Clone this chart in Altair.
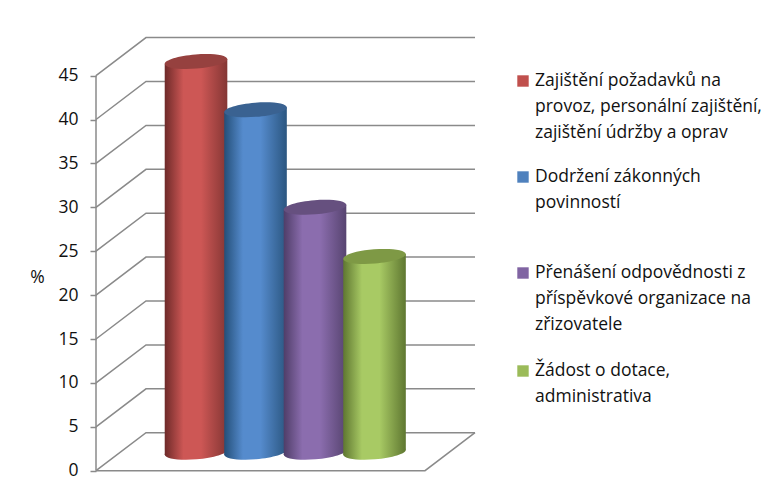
import altair as alt
import pandas as pd

# --- data ---
categories = ["Zajištění požadavků na provoz, personální zajištění, zajištění údržby a oprav",
              "Dodržení zákonných povinností",
              "Přenášení odpovědnosti z příspěvkové organizace na zřizovatele",
              "Žádost o dotace, administrativa"]
values = [44.5, 39.0, 27.9, 22.3]
legend_lines = [["Zajištění požadavků na", "provoz, personální zajištění,", "zajištění údržby a oprav"],
                ["Dodržení zákonných", "povinností"],
                ["Přenášení odpovědnosti z", "příspěvkové organizace na", "zřizovatele"],
                ["Žádost o dotace,", "administrativa"]]
y_ticks = [0, 5, 10, 15, 20, 25, 30, 35, 40, 45]

# --- styles and layout ---
FONT = "Open Sans"
FS = 17.5
TEXT = "#111111"
GRID = "#8a8a8a"
palettes = [
    dict(edge_l="#6e2a29", mid="#cd5755", edge_r="#843634", top="#96413f", key="#c0504d"),
    dict(edge_l="#244f78", mid="#558bcd", edge_r="#2b5680", top="#3a6291", key="#4f81bd"),
    dict(edge_l="#4f3d68", mid="#8b6dae", edge_r="#574470", top="#66507f", key="#8064a2"),
    dict(edge_l="#5f7731", mid="#a8ca64", edge_r="#5f7731", top="#7e9945", key="#9bbb59"),
]
PX_X = 59.5   # px per category unit
PX_Y = 8.78   # px per percent
PAD_L, PAD_T = 88, 0
W, H = 677, 488
x0 = -0.681
x_scale = alt.Scale(domain=[x0, x0 + W / PX_X], range=[0, W], nice=False, zero=False)
y_bottom = -(488 - 462.7) / PX_Y
y_scale = alt.Scale(domain=[y_bottom, y_bottom + H / PX_Y], nice=False, zero=False)
y_axis = alt.Axis(
    values=y_ticks, domain=False, grid=False, tickColor=GRID, tickWidth=1.5,
    tickSize=6, labelFont=FONT, labelFontSize=FS, labelColor=TEXT, labelPadding=12,
    title="%", titleFont=FONT, titleFontSize=FS, titleColor=TEXT,
    titleFontWeight="normal", titleAngle=0, titleX=-59, titleY=269,
    titleBaseline="middle", titleAlign="center")

DEPTH_X = 50 / PX_X
DEPTH_Y = 38 / PX_Y
FLOOR_W = 329 / PX_X
BAR_HALF = 31.3 / PX_X
TILT = 2.5 / PX_Y
BASE = 18.5 / PX_Y
ELLIPSE = "M-1,0.08 A1,0.225 -4.6 1 1 1,-0.08 A1,0.225 -4.6 1 1 -1,0.08 Z"
ELL_SIZE = (2 * BAR_HALF * PX_X) ** 2

X = lambda: alt.X("x:Q", scale=x_scale, axis=None)
Y = lambda f="y:Q": alt.Y(f, scale=y_scale, axis=y_axis)

layers = []

# front vertical edge, carrying the y axis
axis_df = pd.DataFrame({"y": [y_ticks[0]], "y2": [y_ticks[-1]]})
layers.append(
    alt.Chart(axis_df).mark_rule(color=GRID, strokeWidth=1.5).encode(
        x=alt.value(0), y=Y(), y2="y2:Q")
)

# grid: left wall + back wall
grid_rows = []
for v in y_ticks:
    grid_rows += [dict(x=x0, y=v, g=v, o=0),
                  dict(x=x0 + DEPTH_X, y=v + DEPTH_Y, g=v, o=1),
                  dict(x=x0 + DEPTH_X + FLOOR_W, y=v + DEPTH_Y, g=v, o=2)]
# floor front and right edges
grid_rows += [dict(x=x0 + DEPTH_X + FLOOR_W, y=DEPTH_Y, g=-1, o=0),
              dict(x=x0 + FLOOR_W, y=0, g=-1, o=1),
              dict(x=x0, y=0, g=-1, o=2)]
layers.append(
    alt.Chart(pd.DataFrame(grid_rows)).mark_line(color=GRID, strokeWidth=1.5).encode(
        x=X(), y=Y(), detail="g:N", order="o:Q")
)

# cylinders
for i, (val, pal) in enumerate(zip(values, palettes)):
    cx = i + 1
    grad = alt.LinearGradient(
        gradient="linear", x1=0, y1=0, x2=1, y2=0,
        stops=[alt.GradientStop(offset=0, color=pal["edge_l"]),
               alt.GradientStop(offset=0.3, color=pal["mid"]),
               alt.GradientStop(offset=0.58, color=pal["mid"]),
               alt.GradientStop(offset=1, color=pal["edge_r"])])
    point = pd.DataFrame({"x": [cx], "y": [BASE], "t": [BASE + val]})
    layers.append(
        alt.Chart(point).mark_point(shape=ELLIPSE, size=ELL_SIZE, filled=True, fill=grad,
                                    opacity=1, strokeWidth=0).encode(x=X(), y=Y())
    )
    body = pd.DataFrame({
        "x": [cx - BAR_HALF, cx + BAR_HALF],
        "y": [BASE + val - TILT, BASE + val + TILT],
        "y2": [BASE - TILT, BASE + TILT],
    })
    layers.append(
        alt.Chart(body).mark_area(fill=grad, opacity=1).encode(
            x=X(), y=Y(), y2="y2:Q")
    )
    layers.append(
        alt.Chart(point).mark_point(shape=ELLIPSE, size=ELL_SIZE, filled=True, color=pal["top"],
                                    opacity=1, strokeWidth=0).encode(
            x=X(), y=Y("t:Q"))
    )

# legend, laid out as in the reference
KEY_X = 523 - 8 - PAD_L
TEXT_X = 535 - 8 - PAD_L
group_first_line = [81, 177, 273, 371]
LINE_H = 25.8
for lines, first, pal in zip(legend_lines, group_first_line, palettes):
    layers.append(
        alt.Chart(pd.DataFrame({"k": [lines[0]]})).mark_square(
            size=130, color=pal["key"], opacity=1).encode(
            x=alt.value(KEY_X), y=alt.value(first - 8 - PAD_T))
    )
    for j, line in enumerate(lines):
        layers.append(
            alt.Chart(pd.DataFrame({"t": [line]})).mark_text(
                font=FONT, fontSize=FS, color=TEXT, align="left", baseline="middle").encode(
                x=alt.value(TEXT_X), y=alt.value(first + j * LINE_H - 8 - PAD_T), text="t:N")
        )

chart = alt.layer(*layers).properties(
    width=W, height=H,
    padding={"left": PAD_L, "top": PAD_T, "right": 0, "bottom": 0},
    autosize=alt.AutoSizeParams(type="none"),
    background="white",
).configure_view(stroke=None)

chart.save("out.html", embed_options={"renderer": "svg", "actions": False})
